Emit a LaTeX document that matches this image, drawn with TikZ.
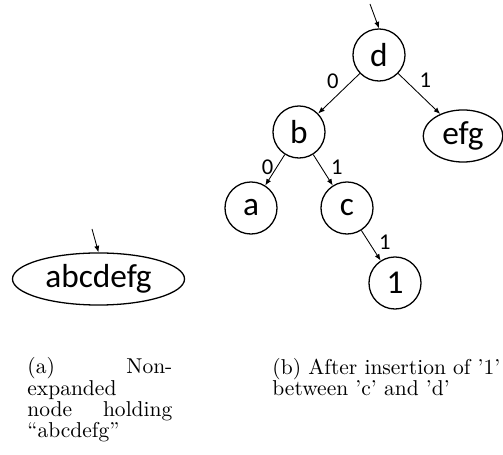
\documentclass[tikz,border=0pt]{standalone}
\usepackage{fontspec}
\newfontfamily\trieface{Carlito}
\usetikzlibrary{shapes.geometric, arrows.meta, positioning}

\tikzset{
  trienode/.style={circle, draw, semithick, minimum size=24.2pt, inner sep=0pt,
    font=\trieface\fontsize{15.5}{18}\selectfont},
  leafnode/.style={ellipse, draw, semithick, minimum height=24.2pt, inner sep=0pt,
    font=\trieface\fontsize{15.5}{18}\selectfont},
  bit/.style={font=\trieface\fontsize{10.5}{12}\selectfont, inner sep=1.5pt},
  edge/.style={-{Latex[length=3pt,width=2.4pt]}, thin},
  capline/.style={anchor=base west, inner sep=0pt, font=\fontsize{10}{12}\selectfont}
}

\begin{document}
\begin{tikzpicture}[x=0.465pt, y=-0.465pt]
  \useasboundingbox (0,0) rectangle (503,455);

  % (a) the single unexpanded node
  \coordinate (ain) at (92,229);
  \node[leafnode, minimum width=80pt] (abcdefg) at (98.5,279) {abcdefg};
  \draw[edge] (ain) -- (abcdefg.north);

  % (b) the tree after the insertion
  \coordinate (din) at (370,4);
  \node[trienode] (d) at (379,55) {d};
  \node[trienode] (b) at (299,132) {b};
  \node[leafnode, minimum width=37pt] (efg) at (463,136) {efg};
  \node[trienode] (a) at (251,208) {a};
  \node[trienode] (c) at (347,208) {c};
  \node[trienode] (one) at (395,283) {1};

  \draw[edge] (din) -- (d.north);
  \draw[edge] (d) -- node[bit, above left, inner sep=0pt, yshift=2pt] {0} (b);
  \draw[edge] (d) -- node[bit, above right, inner sep=0pt, yshift=2.5pt] {1} (efg);
  \draw[edge] (b) -- node[bit, pos=0.4, left] {0} (a);
  \draw[edge] (b) -- node[bit, pos=0.4, right=3pt] {1} (c);
  \draw[edge] (c) -- node[bit, pos=0.4, right=3pt] {1} (one);

  % sub-captions, one line at a time
  \node[capline] (capa1) at (27,374) {\hbox to 67.4pt{(a)\hfill Non-}};
  \node[capline] (capa2) at (27,396) {expanded};
  \node[capline] (capa3) at (27,417) {\hbox to 67.4pt{node\hfill holding}};
  \node[capline] (capa4) at (27,438) {``abcdefg''};
  \node[capline] (capb1) at (272,375) {\hbox to 106pt{(b) After insertion of '1'}};
  \node[capline] (capb2) at (272,396) {between 'c' and 'd'};
\end{tikzpicture}
\end{document}
